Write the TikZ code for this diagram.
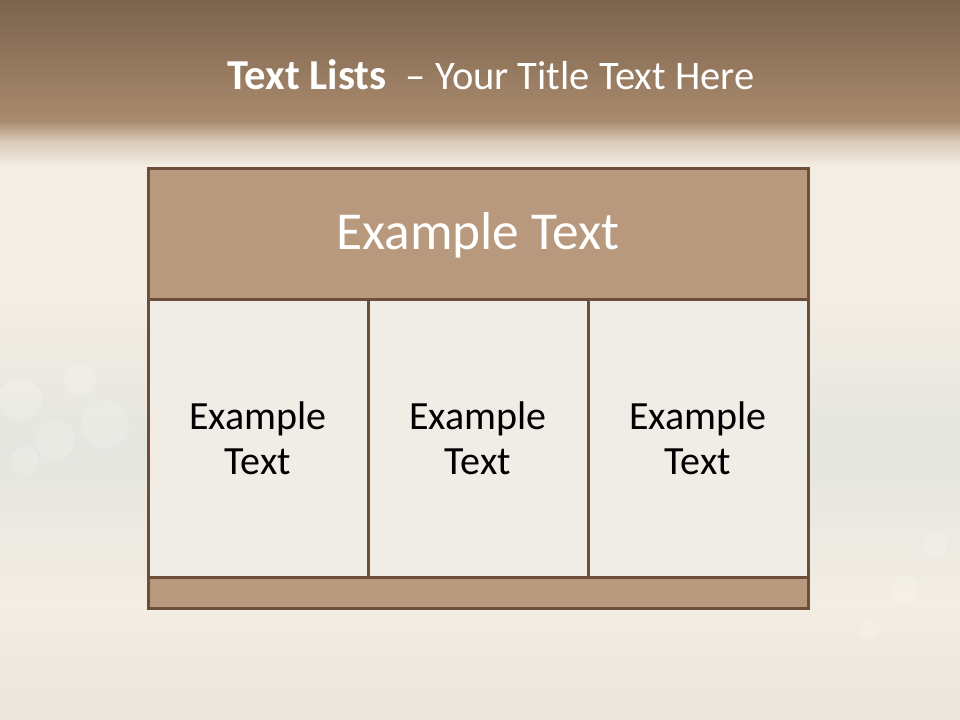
\documentclass[tikz,border=0pt]{standalone}
\usepackage{fontspec}
\setmainfont{Carlito}
\usetikzlibrary{positioning}

\definecolor{bandtop}{HTML}{7B634D}
\definecolor{bandlow}{HTML}{A98A6D}
\definecolor{bandfade}{HTML}{D9CAB9}
\definecolor{bgcream}{HTML}{F3EDE3}
\definecolor{bgmist}{HTML}{E4E6E0}
\definecolor{bgbottom}{HTML}{EAE6DE}
\definecolor{boxline}{HTML}{6B4F3A}
\definecolor{headfill}{HTML}{B8997D}
\definecolor{cellfill}{HTML}{F0ECE6}

\pgfdeclareverticalshading{slidebg}{100bp}{color(0bp)=(bgbottom); color(25bp)=(bgbottom);
  color(33bp)=(bgcream); color(44bp)=(bgmist); color(54bp)=(bgcream); color(63.5bp)=(bgcream);
  color(65.2bp)=(bandfade); color(66.6bp)=(bandlow); color(75bp)=(bandtop); color(100bp)=(bandtop)}

\begin{document}
\begin{tikzpicture}[x=0.75pt, y=-0.75pt,
    bokeh/.style={fill=white, opacity=0.16},
    box/.style={draw=boxline, line width=2.25pt, inner sep=0pt},
    headbox/.style={box, fill=headfill, minimum width=495pt, minimum height=99pt,
      text=white, font=\fontsize{40}{48}\selectfont},
    cellbox/.style={box, fill=cellfill, minimum width=165pt, minimum height=207.75pt,
      align=center, font=\fontsize{30}{33.6}\selectfont},
    footbox/.style={box, fill=headfill, minimum width=495pt, minimum height=23.25pt}]
    \useasboundingbox (0,0) rectangle (960,720);
    \shade[shading=slidebg] (0,0) rectangle (960,720);
    % soft light spots
    \foreach \bx/\by/\br in {20/400/22, 55/440/20, 105/425/24, 80/380/16, 25/460/14,
        905/590/14, 935/545/12, 870/630/10}
      \fill[bokeh] (\bx,\by) circle (\br);
    % title line
    \node[text=white] (title) at (491,75)
      {\fontsize{32}{38}\selectfont\bfseries Text Lists\ \ \mdseries\fontsize{30.4}{36}\selectfont -- Your Title Text Here};
    % table
    \node[headbox] (header) at (478,235) {Example Text};
    \node[cellbox] (cellA) at (258,438.5) {Example\\Text};
    \node[cellbox] (cellB) at (478,438.5) {Example\\Text};
    \node[cellbox] (cellC) at (698,438.5) {Example\\Text};
    \node[footbox] (footer) at (478,592.5) {};
\end{tikzpicture}
\end{document}
